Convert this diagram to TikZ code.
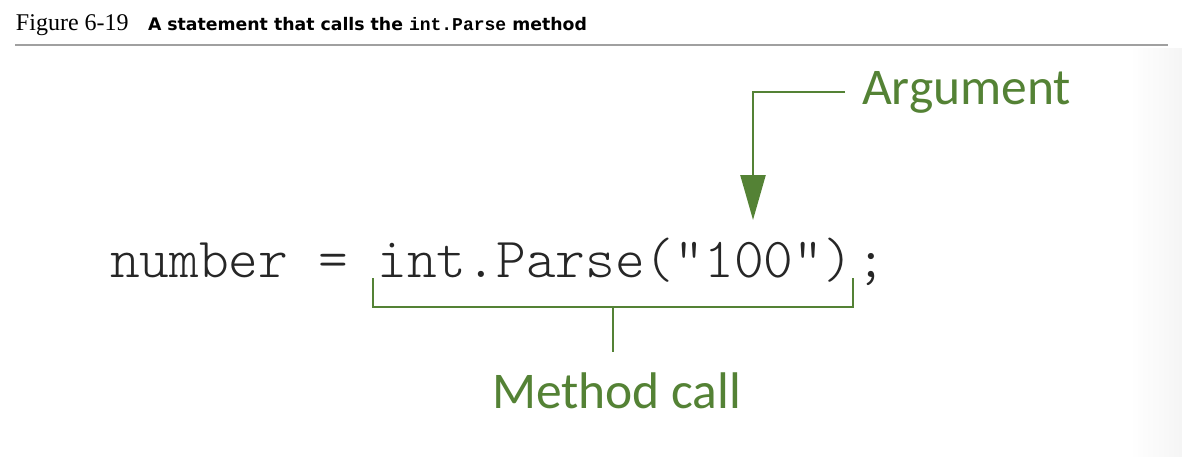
\documentclass[tikz,border=0pt]{standalone}
\usepackage{fontspec}
\usetikzlibrary{arrows.meta}
\newfontfamily\titleserif{Liberation Serif}
\newfontfamily\capsans{DejaVu Sans}
\newfontfamily\capmono{Liberation Mono}
\newfontfamily\labelsans{Carlito}
\newfontfamily\codemono{Latin Modern Mono Light}
\definecolor{lblgreen}{RGB}{84,130,53}
\definecolor{rulegray}{RGB}{160,160,160}
\tikzset{
  txt/.style={anchor=base west, inner sep=0pt, outer sep=0pt},
  glabel/.style={txt, text=lblgreen, font=\labelsans\fontsize{51.5}{56}\selectfont},
  gline/.style={draw=lblgreen, line width=2.4pt},
}
\begin{document}
\begin{tikzpicture}[x=1pt,y=-1pt]
\useasboundingbox (0,0) rectangle (1182,456);
\shade[left color=white,right color=black!4] (1130,48) rectangle (1182,456);
% caption
\node[txt, font=\titleserif\fontsize{24}{26}\selectfont] (fig) at (16,30) {Figure 6-19};
\node[txt] (cap) at (148,30) {\capsans\bfseries\fontsize{17.3}{20}\selectfont A statement that calls the \capmono\fontsize{18}{20}\selectfont int.Parse\capsans\fontsize{17.3}{20}\selectfont{} method};
\coordinate (ruleL) at (15,45);
\coordinate (ruleR) at (1168,45);
\draw[rulegray, line width=2pt] (ruleL) -- (ruleR);
% code
\node[txt, text=black!85, font=\codemono\fontsize{56.6}{60}\selectfont] (code) at (110,277) {number = int.Parse("100")\kern4pt;};
% argument label and arrow
\node[glabel] (arg) at (862,104) {Argument};
\coordinate (argStart) at (845,92);
\coordinate (argCorner) at (753,92);
\coordinate (argTip) at (753,220);
\draw[gline, -{Triangle[width=25pt,length=45pt]}] (argStart) -- (argCorner) -- (argTip);
% method call bracket
\coordinate (brL) at (373,278);
\coordinate (brLb) at (373,307);
\coordinate (brRb) at (853,307);
\coordinate (brR) at (853,278);
\coordinate (brMid) at (613,307);
\coordinate (brStem) at (613,352);
\draw[gline] (brL) -- (brLb) -- (brRb) -- (brR);
\draw[gline] (brMid) -- (brStem);
\node[glabel] (meth) at (492,408) {Method call};
\end{tikzpicture}
\end{document}
